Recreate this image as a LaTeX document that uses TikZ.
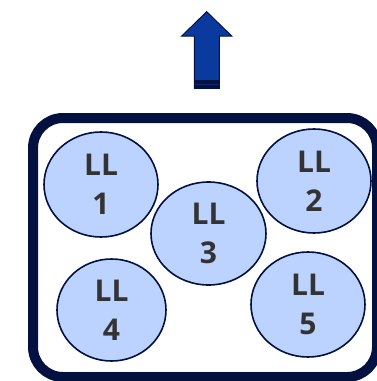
\documentclass[tikz,border=0pt]{standalone}
\usepackage{fontspec}
\setsansfont{Open Sans}
\usetikzlibrary{shapes.geometric}
\definecolor{navy}{HTML}{02113F}
\definecolor{cellblue}{HTML}{BDD3FF}
\definecolor{arrowblue}{HTML}{0B3A9E}
\definecolor{labelgray}{HTML}{333333}
\tikzset{
	cell/.style={ellipse, draw=navy, line width=1.6pt, fill=cellblue, inner sep=0pt,
		text=labelgray, align=center, font=\sffamily\bfseries\fontsize{30}{39}\selectfont}
}

\begin{document}
\begin{tikzpicture}[x=1pt, y=-1pt]
		%%%%% START %%%%%
		\useasboundingbox (0, 0) rectangle (376, 381);
		
		\draw[line width=1pt, draw=navy, fill=arrowblue] (194.3, 88) -- (194.3, 36) -- (181.7, 36) -- (206.7, 11.7) -- (231.7, 36) -- (219.3, 36) -- (219.3, 88) -- cycle;
		\draw[fill=navy, draw=navy] (194.3, 80) rectangle (219.3, 88);
		\draw[line width=0.6pt, color=arrowblue!60!navy] (194.8, 84) -- (218.8, 84);
		
		\draw[line width=10pt, draw=navy, rounded corners=30pt] (33, 118) rectangle (377, 377);
		
		\node[cell, minimum width=114pt, minimum height=105pt] (ll1) at (101, 184.5) {LL\\1};
		\node[cell, minimum width=114pt, minimum height=104pt] (ll2) at (314, 181) {LL\\2};
		\node[cell, minimum width=115pt, minimum height=103pt] (ll3) at (208.5, 233.5) {LL\\3};
		\node[cell, minimum width=109pt, minimum height=102pt] (ll4) at (111.5, 310) {LL\\4};
		\node[cell, minimum width=114pt, minimum height=105pt] (ll5) at (308, 304.5) {LL\\5};
		
		%%%%% END %%%%%
	\end{tikzpicture}
\end{document}
